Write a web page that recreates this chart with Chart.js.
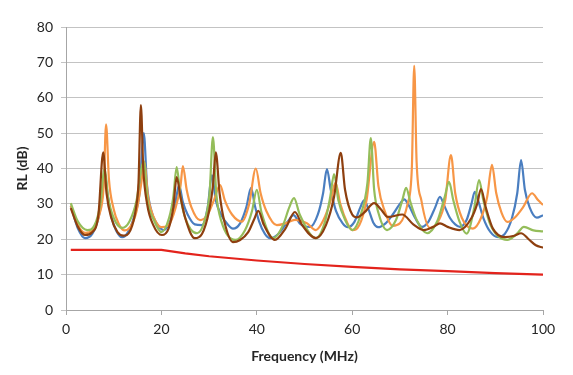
<!DOCTYPE html>
<html>
<head>
<meta charset="utf-8">
<script src="https://cdn.jsdelivr.net/npm/chart.js@4.4.1/dist/chart.umd.min.js"></script>
<style>
  html, body { margin: 0; padding: 0; background: #fff; }
  #wrap { width: 573px; height: 375px; }
</style>
</head>
<body>
<div id="wrap"><canvas id="rlChart" width="573" height="375"></canvas></div>
<script>
// values (frequency in MHz, RL in dB)
const blueX = [1, 2.5, 4, 5.5, 6.8, 7.6, 8.1, 8.7, 9.5, 10.5, 11.8, 13, 14.3, 15.4, 16.3, 17, 17.9, 19, 20.5, 21.8, 22.9, 23.7, 24.5, 25.5, 27, 28.5, 29.7, 30.6, 31.4, 32.5, 34, 35, 36.5, 37.8, 38.8, 39.6, 40.5, 41.7, 42.8, 44.5, 46.5, 47.7, 49, 50, 51.2, 52.8, 53.9, 54.7, 55.5, 56.6, 58, 59.1, 60.5, 61.7, 62.5, 63.4, 64.5, 65.4, 67, 68.5, 70, 70.9, 71.9, 73.2, 74.6, 76, 77.4, 78.4, 79.3, 80.5, 81.6, 82.6, 84, 85, 85.7, 86.4, 87.5, 89, 90.6, 92, 93.5, 94.6, 95.4, 96.2, 97.2, 98.7, 100];
const blueY = [29.5, 23, 20.3, 21.5, 26, 32, 39, 33, 26.5, 22.5, 20.6, 22, 26.5, 33, 50, 35, 28, 24.5, 22.6, 25, 30, 35.3, 30.5, 27, 24.2, 24, 29, 38.1, 31, 27, 24, 23, 24.5, 29, 34.5, 29.5, 25, 21.5, 20.3, 21.5, 25, 26.8, 24.5, 23.7, 23.5, 27, 33, 39.8, 34, 28, 24.5, 23.4, 25, 29, 31, 28.5, 24.5, 23.4, 24.5, 27, 30, 31.3, 29.5, 26, 23.5, 25, 29, 32, 29.5, 26, 24.2, 23.5, 25.5, 30, 33.4, 31, 26, 22, 20.6, 21.5, 26, 33, 42.4, 34, 29, 26.1, 26.8];

const orangeX = [1, 2.5, 4, 5.5, 7, 7.9, 8.4, 9, 10, 11, 12.2, 13.5, 14.8, 15.8, 16.4, 17.2, 18.3, 20, 21.5, 23, 24, 24.5, 25.3, 26.3, 28.1, 29.7, 31, 32.3, 33.3, 34.8, 36.9, 38.4, 39.8, 40.8, 42, 44.2, 46, 48, 50.5, 52.4, 54, 55.5, 56.5, 57.5, 59, 60, 61.5, 63, 64.6, 65.5, 66.8, 68.5, 70, 71.6, 72.5, 73, 73.5, 74.5, 76.3, 78, 79.5, 80.7, 81.6, 83, 85.3, 87, 88.3, 89.3, 90.2, 91.3, 92.5, 94, 95.8, 97.7, 99, 100];
const orangeY = [29.5, 24, 21.8, 22.5, 27, 35, 52.5, 37, 28.5, 24.5, 22.5, 23.5, 28, 36, 42, 32, 26.5, 23.4, 24, 29, 35, 40.7, 34, 29, 25.4, 27, 31, 35.3, 31, 27, 25, 30, 40, 33, 28, 24, 24.5, 25.5, 24.5, 22.6, 25.5, 31, 36, 30, 24.5, 22.6, 24, 31, 47.5, 35, 28, 23.8, 24.5, 30, 40, 69, 42, 31, 23.2, 25, 31, 43.8, 33, 26, 23, 26, 32, 41, 33, 27.5, 24.9, 26, 29, 33, 31, 29.7];

const greenX = [1, 2.5, 4.5, 6, 7.2, 8.1, 8.8, 10, 11.8, 13.3, 14.8, 15.8, 16.3, 17.1, 18.4, 20, 21.6, 22.5, 23.2, 24, 25, 27.5, 29, 30.1, 30.8, 31.5, 32.6, 35.5, 37.5, 39, 40, 41, 43.5, 45.5, 46.8, 47.8, 49, 52.4, 54.3, 55.4, 56.2, 57.1, 58.5, 60, 61.8, 63.2, 63.9, 64.6, 65.6, 67.3, 69.2, 70.5, 71.3, 72.2, 73.5, 75.7, 77.8, 79.4, 80.3, 81.2, 82.5, 84, 85.6, 86.6, 87.5, 89, 92.5, 94.5, 96, 98, 100];
const greenY = [30.2, 25, 22.6, 24, 30, 40, 32, 26, 23.2, 25, 31, 40, 42, 31, 25.5, 22, 26, 32, 40.4, 32, 26, 21.7, 25, 33, 48.9, 33, 25, 19.8, 22.5, 28, 34, 27.5, 20.3, 24, 29, 31.6, 27, 20.3, 25, 32, 38.4, 31, 25.5, 22.6, 27, 36, 48.6, 34, 27, 22.6, 25.5, 31, 34.5, 30.5, 25.5, 21.7, 25, 32, 36.2, 31, 25, 21.6, 29, 36.7, 31, 24, 19.8, 21.5, 23.5, 22.5, 22.2];

const brownX = [1, 2.5, 4, 5.5, 6.8, 7.8, 8.5, 9.5, 10.8, 12, 13.5, 14.7, 15.2, 15.7, 16.2, 17, 18.3, 20.1, 21.5, 22.5, 23.2, 24, 25, 27, 28.5, 30, 30.8, 31.4, 32.2, 33.2, 35, 36.5, 38.2, 39.4, 40.3, 41.5, 43.8, 46, 48, 49.5, 52.4, 54.5, 56.2, 57.6, 58.5, 60, 61, 62.5, 64.6, 66, 67.5, 70.5, 72.8, 75, 77, 78.4, 80, 82.5, 85, 86.2, 87, 88, 89.5, 92, 94, 95.4, 97, 98.5, 100];
const brownY = [28.8, 23.5, 21.2, 22, 27, 44.6, 33, 26, 22, 21, 22.5, 29, 36, 57.9, 40, 30, 24, 21.2, 23, 29, 37.6, 32, 26, 20.3, 21.5, 28, 35, 44.6, 33, 25, 19.2, 19.8, 22, 25.5, 28, 24, 19.8, 23, 27.7, 24, 20.3, 24, 32, 44.4, 34, 27, 26.2, 27.5, 30.2, 28.5, 26.3, 27, 24.2, 22.6, 23.5, 24.5, 23.5, 22.6, 26, 30, 34.2, 29, 23, 20.6, 21, 21.7, 20, 18.3, 17.6];

const redX = [1, 20, 25, 30, 40, 50, 60, 70, 80, 90, 100];
const redY = [17, 17, 16, 15.2, 14, 13, 12.2, 11.5, 11, 10.4, 10];

const xTicks = [0, 20, 40, 60, 80, 100];
const yTicks = [0, 10, 20, 30, 40, 50, 60, 70, 80];

function pairs(xs, ys) {
  return xs.map((x, i) => ({ x: x, y: ys[i] }));
}

function line(data, color, smooth) {
  return {
    data: data,
    borderColor: color,
    backgroundColor: color,
    borderWidth: 2.2,
    pointRadius: 0,
    fill: false,
    tension: smooth ? 0.4 : 0,
    cubicInterpolationMode: smooth ? "monotone" : "default",
  };
}

const ctx = document.getElementById("rlChart");
new Chart(ctx, {
  type: "line",
  data: {
    datasets: [
      line(pairs(redX, redY), "#E3231C", false),
      line(pairs(brownX, brownY), "#8E3F0F", true),
      line(pairs(greenX, greenY), "#94BD5A", true),
      line(pairs(orangeX, orangeY), "#F79646", true),
      line(pairs(blueX, blueY), "#4A7EC0", true),
    ],
  },
  options: {
    responsive: false,
    animation: false,
    layout: { padding: { left: 0, right: 30, top: 27, bottom: 0 } },
    plugins: { legend: { display: false }, tooltip: { enabled: false } },
    scales: {
      x: {
        type: "linear",
        min: 0,
        max: 100,
        afterBuildTicks: (scale) => { scale.ticks = xTicks.map((v) => ({ value: v })); },
        afterFit: (scale) => { scale.height = 65; },
        grid: { drawOnChartArea: false, drawTicks: true, tickLength: 5, color: "#A6A6A6" },
        border: { color: "#A6A6A6" },
        ticks: { color: "#262626", font: { family: "Lato", size: 14 }, padding: 6, maxRotation: 0 },
        title: {
          display: true,
          text: "Frequency (MHz)",
          color: "#262626",
          font: { family: "Lato", size: 14, weight: "bold" },
          padding: { top: 0, bottom: 10 },
        },
      },
      y: {
        min: 0,
        max: 80,
        afterBuildTicks: (scale) => { scale.ticks = yTicks.map((v) => ({ value: v })); },
        afterFit: (scale) => { scale.width = 66; },
        grid: { color: "#C3C3C3", tickLength: 5, lineWidth: 1 },
        border: { color: "#A6A6A6" },
        ticks: { color: "#262626", font: { family: "Lato", size: 14 }, padding: 8 },
        title: {
          display: true,
          text: "RL (dB)",
          color: "#262626",
          font: { family: "Lato", size: 14, weight: "bold" },
          padding: { top: 14, bottom: 0 },
        },
      },
    },
  },
});
</script>
</body>
</html>
